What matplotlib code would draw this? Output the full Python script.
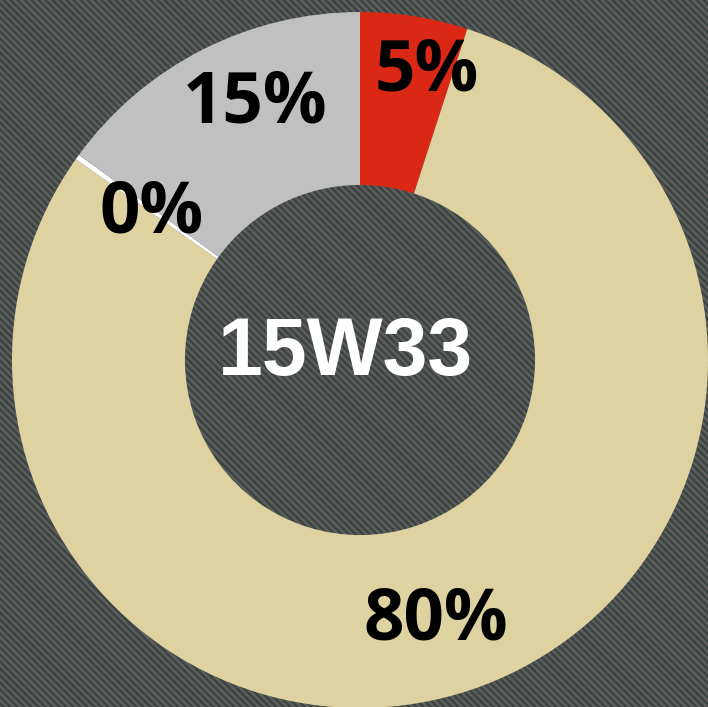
import numpy as np
import matplotlib
matplotlib.use("Agg")
import matplotlib.pyplot as plt

# ---- data ----
categories = ["Red", "Beige", "White", "Gray"]
values = [5, 80, 0.25, 15]
labels = [f"{round(v)}%" for v in values]
center_label = "15W33"

# ---- style ----
colors = ["#da2814", "#ded2a0", "#ffffff", "#c0c0c0"]
label_radius = [0.799, 0.833, 0.702, 0.745]       # baseline radius (fraction of outer)
label_angle_offset = [-4.9, -3.3, 4.1, -3.1]      # degrees from slice middle

W, H, DPI = 708, 707, 100
fig = plt.figure(figsize=(W / DPI, H / DPI), dpi=DPI)

# striped background texture in its own axes
yy, xx = np.mgrid[0:H, 0:W]
phase = ((xx - yy) % 7) / 7.0
t = 0.5 + 0.5 * np.cos(2 * np.pi * phase)
dark = np.array([0x3a, 0x42, 0x40]) / 255.0
light = np.array([0x60, 0x60, 0x60]) / 255.0
bg = dark[None, None, :] * (1 - t[..., None]) + light[None, None, :] * t[..., None]
bgax = fig.add_axes([0, 0, 1, 1], zorder=0)
bgax.imshow(bg, aspect="auto", interpolation="nearest", extent=(0, W, H, 0))
bgax.axis("off")

ax = fig.add_axes([12 / W, -1 / H, 696 / W, 696 / H], zorder=1)
ax.axis("off")
ax.patch.set_visible(False)

wedges, _ = ax.pie(values, colors=colors, startangle=90, counterclock=False,
                   radius=1.0, wedgeprops=dict(width=0.497, linewidth=0),
                   normalize=True)
for w in wedges:
    w.set_clip_on(False)
ax.set_xlim(-1, 1)
ax.set_ylim(-1, 1)
ax.set_aspect("equal")

total = sum(values)
start = 90.0
for v, lab, r, off in zip(values, labels, label_radius, label_angle_offset):
    span = 360.0 * v / total
    mid = start - span / 2 + off
    start -= span
    ax.text(r * np.cos(np.radians(mid)), r * np.sin(np.radians(mid)), lab,
            ha="center", va="baseline", fontsize=51, fontweight="bold",
            family=["Open Sans", "DejaVu Sans"], color="black")

ax.text(-15 / 348, -15 / 348, center_label, ha="center", va="baseline",
        fontsize=58, fontweight="bold", family=["Liberation Sans", "DejaVu Sans"],
        color="white")

fig.savefig("out.png", dpi=DPI)
